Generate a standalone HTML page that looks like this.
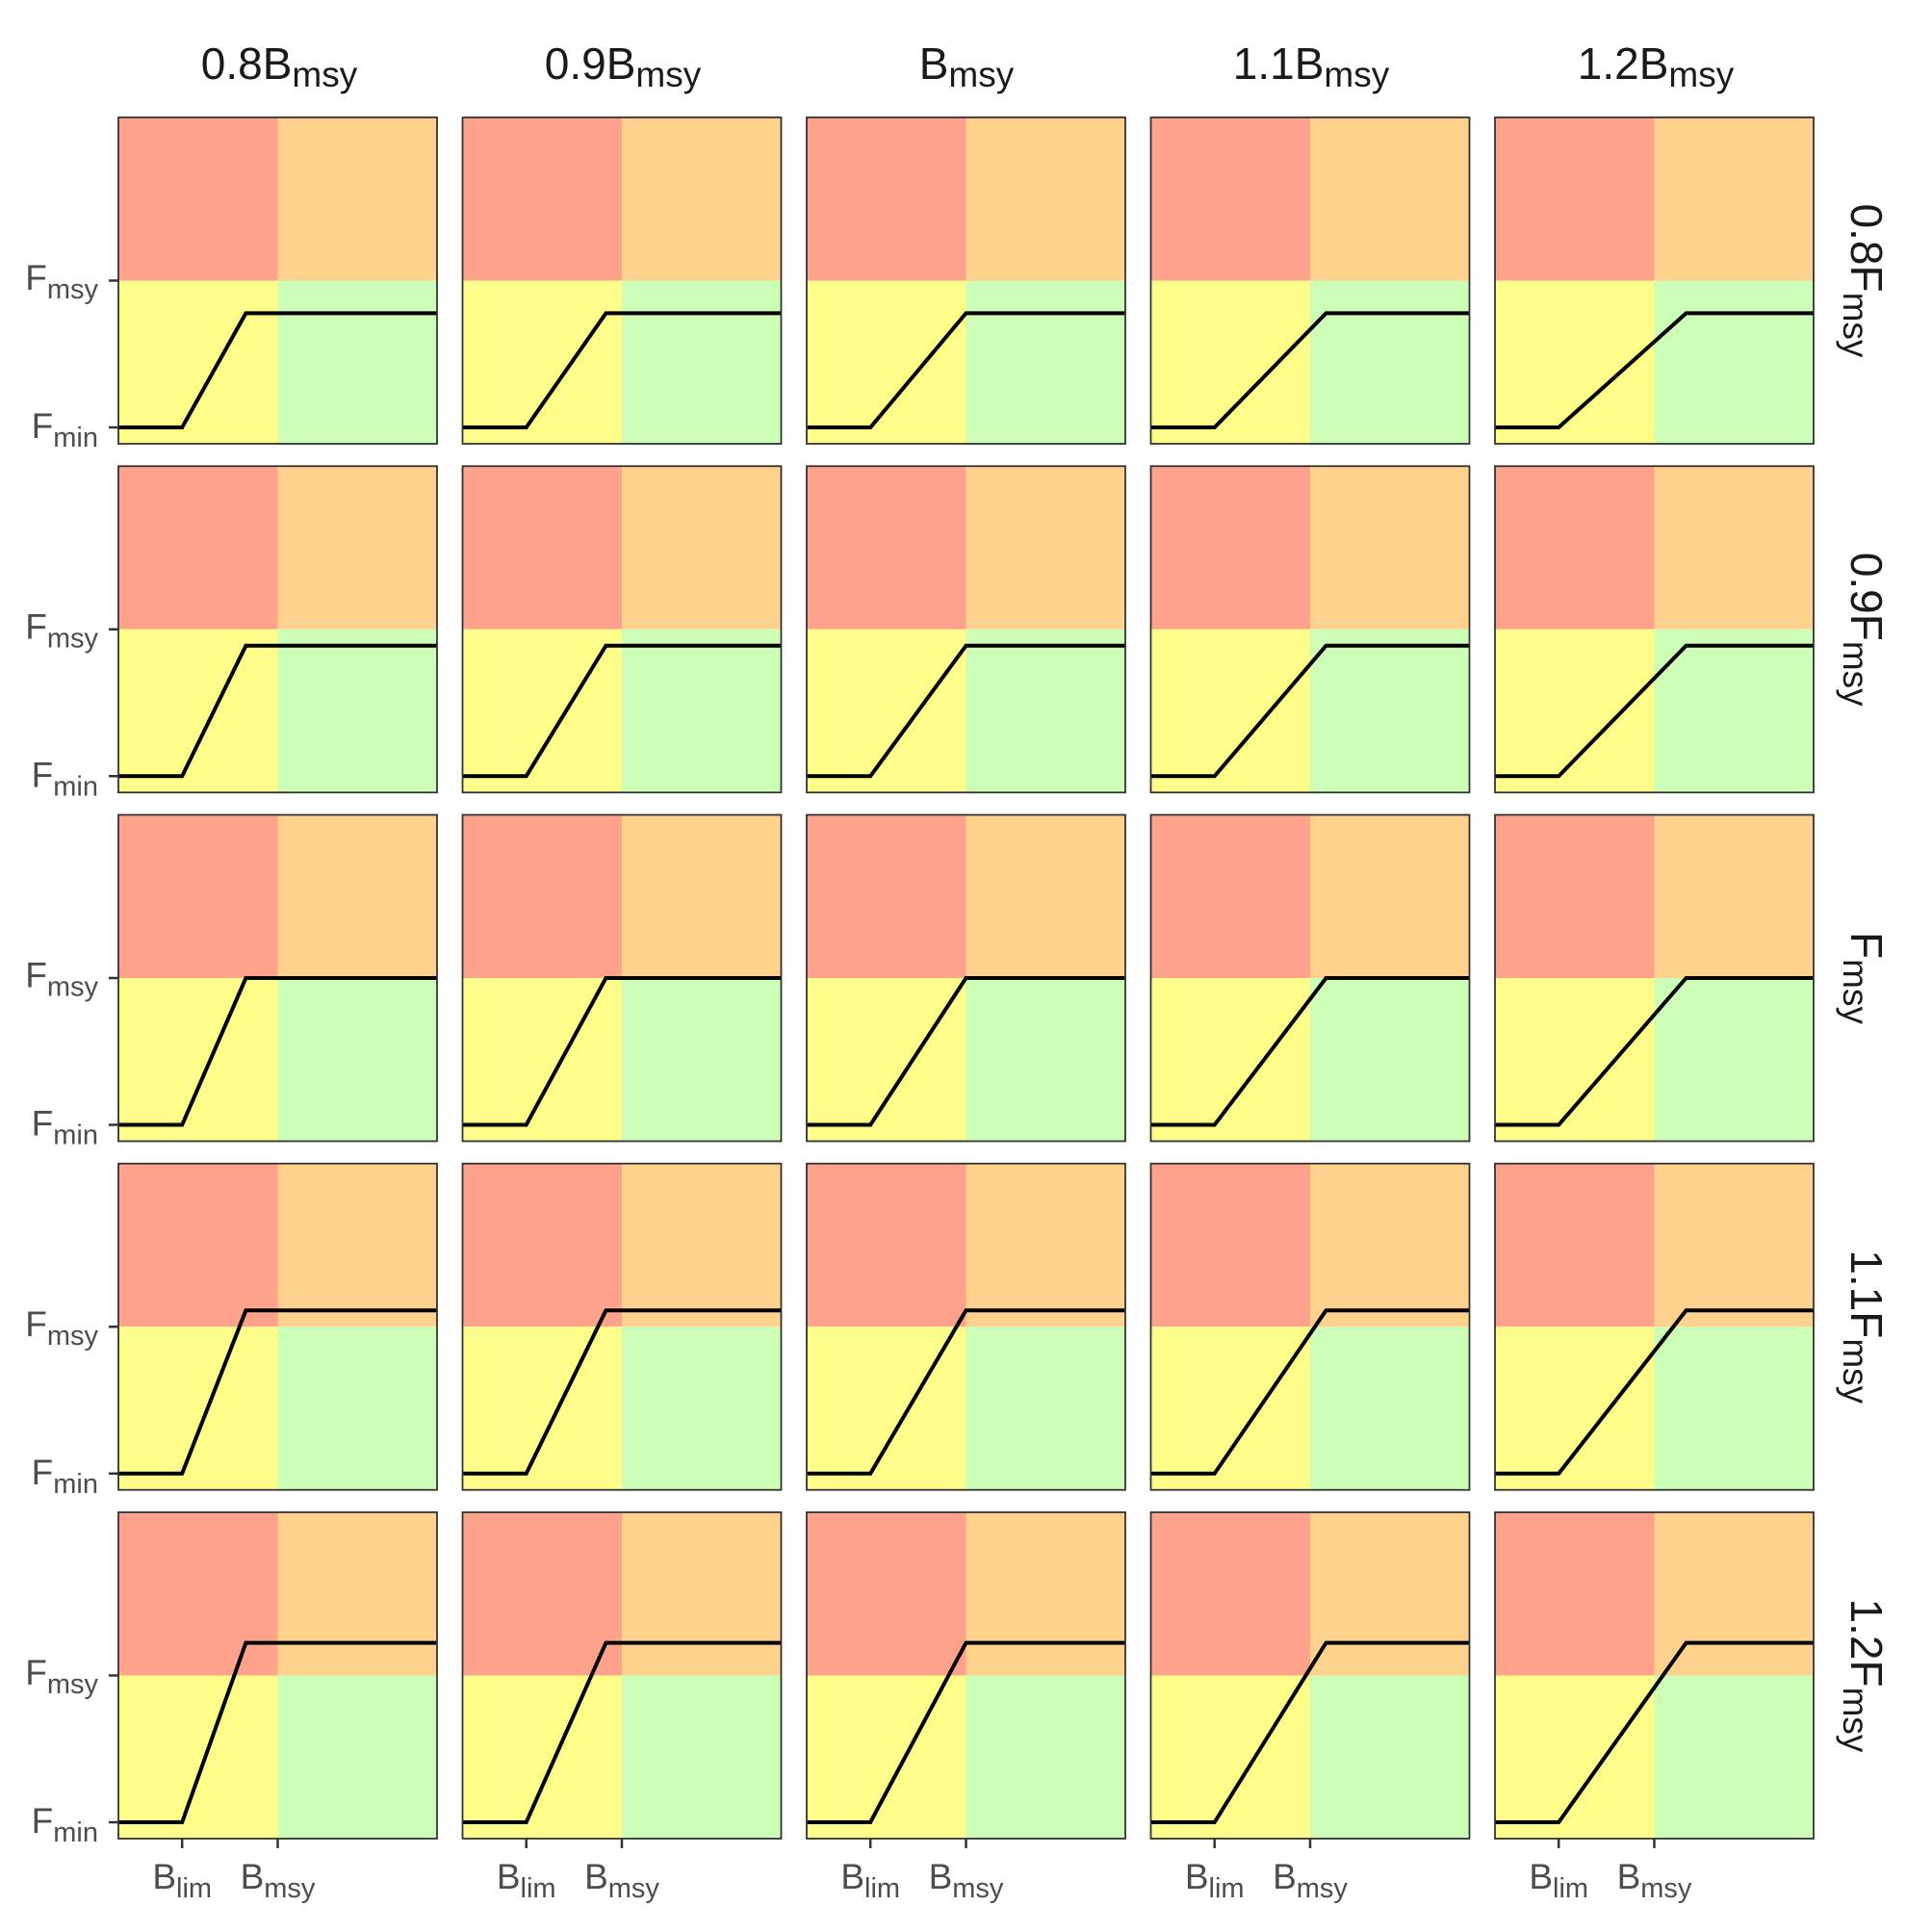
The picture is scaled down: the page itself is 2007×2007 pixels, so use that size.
<!DOCTYPE html>
<html><head><meta charset="utf-8"><style>html,body{margin:0;padding:0;background:#fff}svg{display:block}</style></head>
<body>
<svg width="2007" height="2007" viewBox="0 0 2007 2007" xmlns="http://www.w3.org/2000/svg" font-family="Liberation Sans, Arial, sans-serif">
<defs>
<g id="bg" stroke="none">
<rect x="0" y="0" width="165.5" height="169.5" fill="#FEA28B" stroke="none"/>
<rect x="165.5" y="0" width="165.5" height="169.5" fill="#FED18C" stroke="none"/>
<rect x="0" y="169.5" width="165.5" height="169.5" fill="#FEFD89" stroke="none"/>
<rect x="165.5" y="169.5" width="165.5" height="169.5" fill="#CCFEB8" stroke="none"/>
</g>
<rect id="bd" x="0" y="0" width="331" height="339" fill="none" stroke="#333" stroke-width="1.8"/>
</defs>
<g fill="none" stroke="#000" stroke-width="4">
<g transform="translate(123,122)"><use href="#bg"/><polyline points="0,322 66.2,322 132.4,203.4 331,203.4"/><use href="#bd"/></g>
<g transform="translate(480.5,122)"><use href="#bg"/><polyline points="0,322 66.2,322 148.95,203.4 331,203.4"/><use href="#bd"/></g>
<g transform="translate(838,122)"><use href="#bg"/><polyline points="0,322 66.2,322 165.5,203.4 331,203.4"/><use href="#bd"/></g>
<g transform="translate(1195.5,122)"><use href="#bg"/><polyline points="0,322 66.2,322 182.05,203.4 331,203.4"/><use href="#bd"/></g>
<g transform="translate(1553,122)"><use href="#bg"/><polyline points="0,322 66.2,322 198.6,203.4 331,203.4"/><use href="#bd"/></g>
<g transform="translate(123,484.25)"><use href="#bg"/><polyline points="0,322 66.2,322 132.4,186.45 331,186.45"/><use href="#bd"/></g>
<g transform="translate(480.5,484.25)"><use href="#bg"/><polyline points="0,322 66.2,322 148.95,186.45 331,186.45"/><use href="#bd"/></g>
<g transform="translate(838,484.25)"><use href="#bg"/><polyline points="0,322 66.2,322 165.5,186.45 331,186.45"/><use href="#bd"/></g>
<g transform="translate(1195.5,484.25)"><use href="#bg"/><polyline points="0,322 66.2,322 182.05,186.45 331,186.45"/><use href="#bd"/></g>
<g transform="translate(1553,484.25)"><use href="#bg"/><polyline points="0,322 66.2,322 198.6,186.45 331,186.45"/><use href="#bd"/></g>
<g transform="translate(123,846.5)"><use href="#bg"/><polyline points="0,322 66.2,322 132.4,169.5 331,169.5"/><use href="#bd"/></g>
<g transform="translate(480.5,846.5)"><use href="#bg"/><polyline points="0,322 66.2,322 148.95,169.5 331,169.5"/><use href="#bd"/></g>
<g transform="translate(838,846.5)"><use href="#bg"/><polyline points="0,322 66.2,322 165.5,169.5 331,169.5"/><use href="#bd"/></g>
<g transform="translate(1195.5,846.5)"><use href="#bg"/><polyline points="0,322 66.2,322 182.05,169.5 331,169.5"/><use href="#bd"/></g>
<g transform="translate(1553,846.5)"><use href="#bg"/><polyline points="0,322 66.2,322 198.6,169.5 331,169.5"/><use href="#bd"/></g>
<g transform="translate(123,1208.75)"><use href="#bg"/><polyline points="0,322 66.2,322 132.4,152.55 331,152.55"/><use href="#bd"/></g>
<g transform="translate(480.5,1208.75)"><use href="#bg"/><polyline points="0,322 66.2,322 148.95,152.55 331,152.55"/><use href="#bd"/></g>
<g transform="translate(838,1208.75)"><use href="#bg"/><polyline points="0,322 66.2,322 165.5,152.55 331,152.55"/><use href="#bd"/></g>
<g transform="translate(1195.5,1208.75)"><use href="#bg"/><polyline points="0,322 66.2,322 182.05,152.55 331,152.55"/><use href="#bd"/></g>
<g transform="translate(1553,1208.75)"><use href="#bg"/><polyline points="0,322 66.2,322 198.6,152.55 331,152.55"/><use href="#bd"/></g>
<g transform="translate(123,1571)"><use href="#bg"/><polyline points="0,322 66.2,322 132.4,135.6 331,135.6"/><use href="#bd"/></g>
<g transform="translate(480.5,1571)"><use href="#bg"/><polyline points="0,322 66.2,322 148.95,135.6 331,135.6"/><use href="#bd"/></g>
<g transform="translate(838,1571)"><use href="#bg"/><polyline points="0,322 66.2,322 165.5,135.6 331,135.6"/><use href="#bd"/></g>
<g transform="translate(1195.5,1571)"><use href="#bg"/><polyline points="0,322 66.2,322 182.05,135.6 331,135.6"/><use href="#bd"/></g>
<g transform="translate(1553,1571)"><use href="#bg"/><polyline points="0,322 66.2,322 198.6,135.6 331,135.6"/><use href="#bd"/></g>
</g>
<g stroke="#333" stroke-width="2.5">
<line x1="113" y1="291.5" x2="123" y2="291.5"/><line x1="113" y1="444" x2="123" y2="444"/>
<line x1="113" y1="653.75" x2="123" y2="653.75"/><line x1="113" y1="806.25" x2="123" y2="806.25"/>
<line x1="113" y1="1016" x2="123" y2="1016"/><line x1="113" y1="1168.5" x2="123" y2="1168.5"/>
<line x1="113" y1="1378.25" x2="123" y2="1378.25"/><line x1="113" y1="1530.75" x2="123" y2="1530.75"/>
<line x1="113" y1="1740.5" x2="123" y2="1740.5"/><line x1="113" y1="1893" x2="123" y2="1893"/>
<line x1="189.2" y1="1910" x2="189.2" y2="1920"/><line x1="288.5" y1="1910" x2="288.5" y2="1920"/>
<line x1="546.7" y1="1910" x2="546.7" y2="1920"/><line x1="646" y1="1910" x2="646" y2="1920"/>
<line x1="904.2" y1="1910" x2="904.2" y2="1920"/><line x1="1003.5" y1="1910" x2="1003.5" y2="1920"/>
<line x1="1261.7" y1="1910" x2="1261.7" y2="1920"/><line x1="1361" y1="1910" x2="1361" y2="1920"/>
<line x1="1619.2" y1="1910" x2="1619.2" y2="1920"/><line x1="1718.5" y1="1910" x2="1718.5" y2="1920"/>
</g>
<g fill="#4D4D4D" font-size="37" text-anchor="end">
<text x="102" y="301">F<tspan font-size="29" dy="9">msy</tspan></text>
<text x="102" y="455">F<tspan font-size="29" dy="9">min</tspan></text>
<text x="102" y="663.25">F<tspan font-size="29" dy="9">msy</tspan></text>
<text x="102" y="817.25">F<tspan font-size="29" dy="9">min</tspan></text>
<text x="102" y="1025.5">F<tspan font-size="29" dy="9">msy</tspan></text>
<text x="102" y="1179.5">F<tspan font-size="29" dy="9">min</tspan></text>
<text x="102" y="1387.75">F<tspan font-size="29" dy="9">msy</tspan></text>
<text x="102" y="1541.75">F<tspan font-size="29" dy="9">min</tspan></text>
<text x="102" y="1750">F<tspan font-size="29" dy="9">msy</tspan></text>
<text x="102" y="1904">F<tspan font-size="29" dy="9">min</tspan></text>
</g>
<g fill="#4D4D4D" font-size="37" text-anchor="middle">
<text x="189.2" y="1962">B<tspan font-size="29" dy="9">lim</tspan></text><text x="288.5" y="1962">B<tspan font-size="29" dy="9">msy</tspan></text>
<text x="546.7" y="1962">B<tspan font-size="29" dy="9">lim</tspan></text><text x="646" y="1962">B<tspan font-size="29" dy="9">msy</tspan></text>
<text x="904.2" y="1962">B<tspan font-size="29" dy="9">lim</tspan></text><text x="1003.5" y="1962">B<tspan font-size="29" dy="9">msy</tspan></text>
<text x="1261.7" y="1962">B<tspan font-size="29" dy="9">lim</tspan></text><text x="1361" y="1962">B<tspan font-size="29" dy="9">msy</tspan></text>
<text x="1619.2" y="1962">B<tspan font-size="29" dy="9">lim</tspan></text><text x="1718.5" y="1962">B<tspan font-size="29" dy="9">msy</tspan></text>
</g>
<g fill="#1A1A1A" font-size="46" text-anchor="middle">
<text x="290" y="82">0.8B<tspan font-size="37" dy="8">msy</tspan></text>
<text x="647" y="82">0.9B<tspan font-size="37" dy="8">msy</tspan></text>
<text x="1004" y="82">B<tspan font-size="37" dy="8">msy</tspan></text>
<text x="1362" y="82">1.1B<tspan font-size="37" dy="8">msy</tspan></text>
<text x="1720" y="82">1.2B<tspan font-size="37" dy="8">msy</tspan></text>
</g>
<g fill="#1A1A1A" font-size="46" text-anchor="middle">
<text transform="translate(1923,291.5) rotate(90)">0.8F<tspan font-size="37" dy="8">msy</tspan></text>
<text transform="translate(1923,653.75) rotate(90)">0.9F<tspan font-size="37" dy="8">msy</tspan></text>
<text transform="translate(1923,1016) rotate(90)">F<tspan font-size="37" dy="8">msy</tspan></text>
<text transform="translate(1923,1378.25) rotate(90)">1.1F<tspan font-size="37" dy="8">msy</tspan></text>
<text transform="translate(1923,1740.5) rotate(90)">1.2F<tspan font-size="37" dy="8">msy</tspan></text>
</g>
</svg>
</body></html>
